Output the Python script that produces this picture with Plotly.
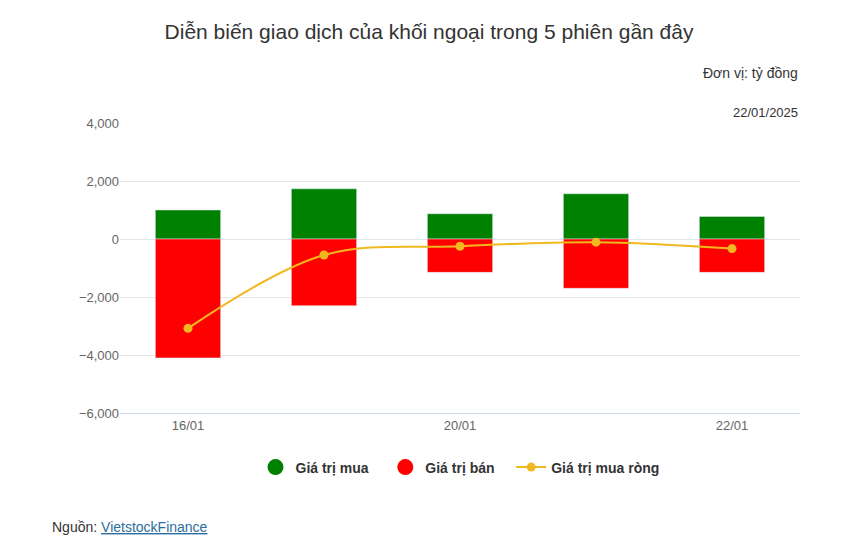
import plotly.graph_objects as go

dates = ["16/01", "17/01", "20/01", "21/01", "22/01"]
buy = [1000, 1730, 870, 1560, 780]
sell = [-4100, -2300, -1150, -1700, -1150]
net = [-3080, -550, -250, -110, -330]
shown_ticks = ["16/01", "20/01", "22/01"]

GREEN, RED, GOLD = "#008000", "#ff0000", "#f0b71e"
fig = go.Figure()
fig.add_bar(x=dates, y=buy, marker_color=GREEN, width=0.48, showlegend=False)
fig.add_bar(x=dates, y=sell, marker_color=RED, width=0.48, showlegend=False)
fig.add_scatter(x=dates, y=net, mode="lines+markers", line=dict(color=GOLD, width=2, shape="spline"),
                marker=dict(size=9, color=GOLD), showlegend=False)
# legend entries
fig.add_scatter(x=[None], y=[None], mode="markers", marker=dict(size=16, color=GREEN), name="Giá trị mua   ")
fig.add_scatter(x=[None], y=[None], mode="markers", marker=dict(size=16, color=RED), name="Giá trị bán   ")
fig.add_scatter(x=[None], y=[None], mode="lines+markers", line=dict(color=GOLD, width=2),
                marker=dict(size=9, color=GOLD), name="Giá trị mua ròng")

fig.update_layout(
    width=842, height=552, barmode="relative", plot_bgcolor="white", paper_bgcolor="white",
    font=dict(family="Liberation Sans, Arial", color="#333"),
    margin=dict(l=112, r=50, t=115, b=147),
    title=dict(text="Diễn biến giao dịch của khối ngoại trong 5 phiên gần đây", x=0.5, y=0.958,
               xanchor="center", yanchor="middle", font=dict(size=21, color="#333")),
    legend=dict(orientation="h", x=0.5, xanchor="center", y=-0.188, yanchor="middle",
                font=dict(size=14, color="#333", weight="bold")),
    xaxis=dict(type="category", tickvals=shown_ticks, ticks="", showline=True, linecolor="#ccd6eb",
               tickfont=dict(size=13, color="#666")),
    yaxis=dict(range=[-6000, 4000], dtick=2000, tickformat=",", gridcolor="#e6e6e6", zeroline=False,
               tickfont=dict(size=13, color="#666")),
    annotations=[
        dict(text="Đơn vị: tỷ đồng", xref="paper", yref="paper", x=1, y=1.207, xanchor="right",
             showarrow=False, font=dict(size=14, color="#333")),
        dict(text="22/01/2025", xref="paper", yref="paper", x=1, y=1.068, xanchor="right",
             showarrow=False, font=dict(size=13, color="#333")),
        dict(text="Nguồn: <a href='https://finance.vietstock.vn' style='color:#2c6e9e'><u>VietstockFinance</u></a>",
             xref="paper", yref="paper", x=-0.103, y=-0.428, xanchor="left", showarrow=False,
             font=dict(size=14, color="#333")),
    ],
)
fig.write_html("out.html")
